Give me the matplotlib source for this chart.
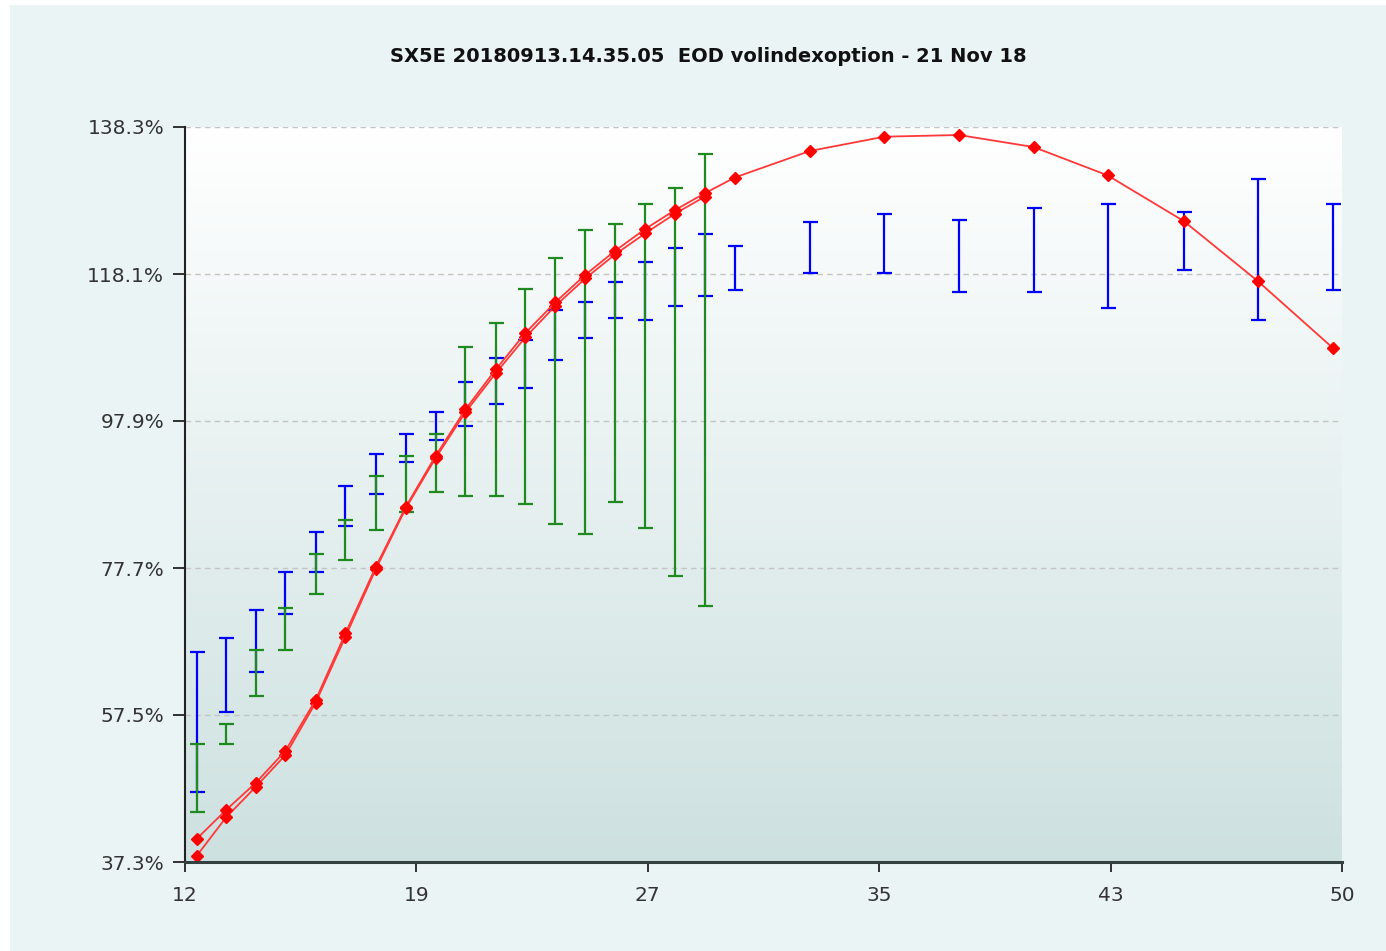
import numpy as np
import matplotlib
matplotlib.use("Agg")
import matplotlib.pyplot as plt
from matplotlib.patches import Rectangle
from matplotlib import font_manager

# ---------------- data ----------------
title = "SX5E 20180913.14.35.05  EOD volindexoption - 21 Nov 18"

x_all = [12.38, 13.35, 14.33, 15.30, 16.29, 17.27, 18.26, 19.25, 20.23, 21.21,
         22.21, 23.18, 24.16, 25.15, 26.13, 27.12, 28.10, 29.07, 30.06, 32.52,
         34.97, 37.42, 39.87, 42.30, 44.80, 47.23, 49.69]

# red curve 1 (full range)
red1 = [40.46, 44.45, 48.20, 52.59, 59.56, 68.73, 77.80, 86.10, 93.10, 99.50,
        105.00, 110.00, 114.20, 118.00, 121.30, 124.30, 126.90, 129.19, 131.36, 135.00,
        136.97, 137.20, 135.55, 131.66, 125.38, 117.14, 107.97]
# red curve 2 (first 18 points)
red2 = [38.12, 43.44, 47.65, 52.00, 59.19, 68.26, 77.50, 85.90, 92.80, 99.10,
        104.50, 109.40, 113.70, 117.50, 120.80, 123.70, 126.40, 128.72]

# blue error bars (low, high) for all points
blue_low = [46.96, 57.87, 63.37, 71.34, 77.11, 83.43, 87.83, 92.22, 95.25, 97.17,
            100.19, 102.39, 106.24, 109.26, 112.01, 111.74, 113.66, 115.04, 115.86, 118.28,
            118.28, 115.59, 115.59, 113.39, 118.61, 111.74, 115.86]
blue_high = [66.12, 68.04, 71.89, 77.11, 82.61, 88.93, 93.32, 96.07, 99.10, 103.22,
             106.52, 108.99, 113.11, 114.21, 116.96, 119.71, 121.63, 123.56, 121.91, 125.20,
             126.30, 125.48, 127.13, 127.68, 126.58, 131.20, 127.68]

# green error bars (low, high) for first 18 points
green_low = [44.21, 53.56, 60.11, 66.43, 74.13, 78.76, 82.88, 85.35, 88.10, 87.55,
             87.55, 86.45, 83.70, 82.33, 86.73, 83.15, 76.56, 72.44]
green_high = [53.56, 56.26, 66.43, 72.16, 79.58, 84.25, 90.30, 93.05, 96.07, 108.11,
              111.41, 116.08, 120.26, 124.10, 124.93, 127.68, 129.88, 134.55]

x_ticks = [12.0, 19.6, 27.2, 34.8, 42.4, 50.0]
x_ticklabels = ["12", "19", "27", "35", "43", "50"]
y_ticks = [37.3, 57.5, 77.7, 97.9, 118.1, 138.3]
y_ticklabels = ["37.3%", "57.5%", "77.7%", "97.9%", "118.1%", "138.3%"]

# ---------------- fonts ----------------
avail = {f.name for f in font_manager.fontManager.ttflist}
title_font = ["Liberation Sans Narrow", "DejaVu Sans"] if "Liberation Sans Narrow" in avail else ["DejaVu Sans"]
plt.rcParams['font.family'] = ["DejaVu Sans"]

W, H = 1386, 951
fig = plt.figure(figsize=(W / 100, H / 100), dpi=100)
fig.patch.set_facecolor("white")
fig.patches.append(Rectangle((10 / W, 0), 1 - 10 / W, 1 - 5 / H, transform=fig.transFigure,
                             facecolor="#ebf4f5", edgecolor="none", zorder=-10))

ax = fig.add_axes([185 / W, 1 - 862 / H, (1342 - 185) / W, (862 - 127) / H])
ax.set_facecolor("none")

# gradient background
grad = np.linspace(0, 1, 256).reshape(-1, 1)
top = np.array([1.0, 1.0, 1.0])
bot = np.array([0xcd, 0xe1, 0xe0]) / 255.0
img = top[None, None, :] * (1 - grad[:, :, None]) + bot[None, None, :] * grad[:, :, None]
ax.imshow(img, extent=[0, 1, 0, 1], transform=ax.transAxes, aspect="auto", zorder=0,
          interpolation="bilinear")

ax.set_xlim(12, 50)
ax.set_ylim(37.3, 138.3)

# grid
for yv in y_ticks[1:]:
    ax.axhline(yv, color="#c4c4c4", lw=1.0, ls=(0, (4, 3)), zorder=1)

n_g = len(green_low)
x_g = x_all[:n_g]

bl = np.array(blue_low)
bh = np.array(blue_high)
ax.errorbar(x_all, bl, yerr=[np.zeros_like(bl), bh - bl], fmt="none", ecolor="#0000ff",
            elinewidth=1.6, capsize=5.4, capthick=1.6, zorder=3)
gl = np.array(green_low)
gh = np.array(green_high)
ax.errorbar(x_g, gl, yerr=[np.zeros_like(gl), gh - gl], fmt="none", ecolor="#1f8a1f",
            elinewidth=1.6, capsize=5.4, capthick=1.6, zorder=4)

ax.plot(x_all[:len(red2)], red2, color="#ff3838", lw=1.3, marker="D", ms=6.3,
        mfc="#ff0000", mec="#ff0000", zorder=5)
ax.plot(x_all, red1, color="#ff3838", lw=1.3, marker="D", ms=6.3,
        mfc="#ff0000", mec="#ff0000", zorder=6)

# spines
for s in ["top", "right"]:
    ax.spines[s].set_visible(False)
ax.spines["left"].set_linewidth(1.5)
ax.spines["left"].set_color("#222222")
ax.spines["bottom"].set_linewidth(2.2)
ax.spines["bottom"].set_color("#334040")
ax.spines["left"].set_zorder(7)
ax.spines["bottom"].set_zorder(7)

ax.set_xticks(x_ticks)
ax.set_xticklabels(x_ticklabels)
ax.set_yticks(y_ticks)
ax.set_yticklabels(y_ticklabels)
ax.tick_params(axis="y", length=9, width=1.3, color="#222222", pad=6, labelsize=14.5,
               labelcolor="#333333")
ax.tick_params(axis="x", length=7, width=1.3, color="#222222", pad=10, labelsize=14.5,
               labelcolor="#333333")

fig.text(708 / W, 1 - 56 / H, title, ha="center", va="center", fontsize=14,
         fontweight="bold", family=title_font, color="#111111")

fig.savefig("out.png", dpi=100, facecolor=fig.get_facecolor())
